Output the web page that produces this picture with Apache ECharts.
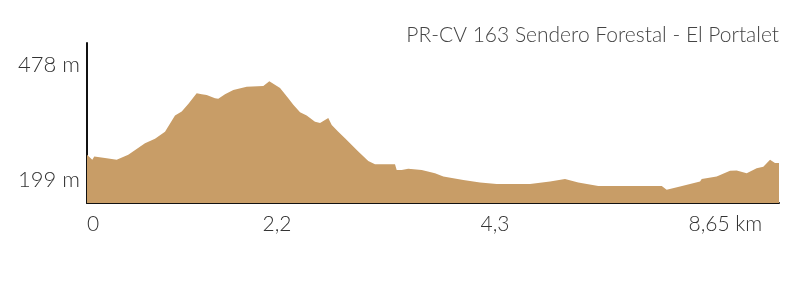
<!DOCTYPE html>
<html>
<head>
<meta charset="utf-8">
<script src="https://cdn.jsdelivr.net/npm/echarts@6/dist/echarts.min.js"></script>
<style>
html,body{margin:0;padding:0;background:#fff;}
#chart{width:807px;height:289px;}
</style>
</head>
<body>
<div id="chart"></div>
<script>
// Distance along the trail (km)
const distanceKm = [0,0.025,0.066,0.091,0.225,0.371,0.516,0.725,0.85,0.975,1.1,1.184,1.266,1.371,1.434,1.496,1.6,1.641,1.725,1.829,1.996,2.204,2.279,2.413,2.516,2.579,2.663,2.746,2.85,2.913,3.016,3.059,3.141,3.225,3.391,3.516,3.6,3.85,3.871,3.891,3.934,4.016,4.184,4.35,4.454,4.704,4.913,5.121,5.538,5.788,5.975,6.141,6.391,7.184,7.246,7.413,7.663,7.684,7.871,8.038,8.121,8.246,8.371,8.454,8.538,8.6,8.65];
// Elevation (m)
const elevationM = [260,263,248,256,252,248,260,288,299,316,355,365,383,409,407,405,397,396,407,417,425,427,438,422,397,381,363,355,340,337,349,332,316,300,268,245,237,237,223,219,223,226,223,215,207,199,193,189,189,195,201,193,184,184,175,183,195,201,207,221,222,215,227,231,248,240,240];
// Axis tick labels
const xTickLabels = ['0','2,2','4,3','8,65 km'];
const xTickValues = [0.075,2.375,5.1,7.98];
const yTickValues = [199,478];
const titleText = 'PR-CV 163 Sendero Forestal - El Portalet';

const chart = echarts.init(document.getElementById('chart'), null, {renderer:'canvas'});
const fontFam = 'Lato, "Open Sans", sans-serif';
chart.setOption({
  animation:false,
  title:{
    text:titleText, right:23, top:20,
    textStyle:{fontFamily:fontFam, fontWeight:300, fontSize:21, color:'#444'}
  },
  grid:{left:87, right:28, top:43, bottom:86},
  xAxis:{
    type:'value', min:0, max:8.65,
    splitLine:{show:false},
    axisLine:{show:true, lineStyle:{color:'#111', width:2}},
    axisTick:{show:false},
    axisLabel:{
      customValues:xTickValues,
      margin:11,
      fontFamily:fontFam, fontWeight:300, fontSize:21, color:'#333',
      formatter:function(v){
        let best=0, bd=1e9;
        xTickValues.forEach((t,i)=>{const d=Math.abs(t-v); if(d<bd){bd=d;best=i;}});
        return xTickLabels[best];
      }
    }
  },
  yAxis:{
    type:'value', min:143, max:531,
    splitLine:{show:false},
    axisLine:{show:true, lineStyle:{color:'#111', width:2}},
    axisTick:{show:false},
    axisLabel:{
      customValues:yTickValues,
      margin:7,
      fontFamily:fontFam, fontWeight:300, fontSize:22, color:'#333',
      formatter:function(v){return Math.round(v)+' m';}
    }
  },
  series:[{
    type:'line',
    data:distanceKm.map((d,i)=>[d,elevationM[i]]),
    symbol:'none',
    lineStyle:{width:0},
    itemStyle:{color:'#C89D67'},
    areaStyle:{color:'#C89D67', opacity:1},
    z:1
  }]
});
</script>
</body>
</html>
